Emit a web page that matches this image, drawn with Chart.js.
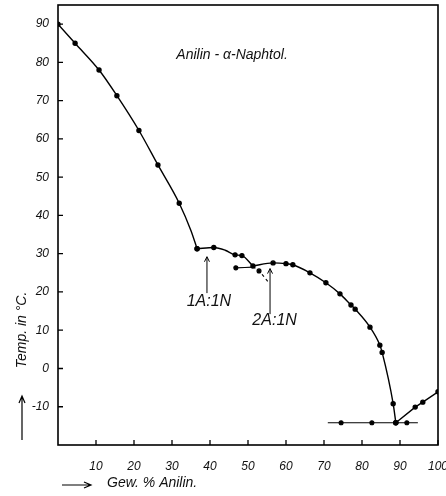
<!DOCTYPE html>
<html>
<head>
<meta charset="utf-8">
<script src="https://cdn.jsdelivr.net/npm/chart.js@4"></script>
<style>
  body { margin: 0; background: #fff; }
  canvas { display: block; }
</style>
</head>
<body>
<canvas id="chart" width="446" height="496"></canvas>
<script>
// Data: Gew. % Anilin vs. Temp. in °C
// alpha-naphthol branch
const naphtholX = [0, 4.5, 10.8, 15.5, 21.3, 26.3, 31.9, 35, 36.6];
const naphtholY = [90, 85, 78, 71.3, 62.2, 53.2, 43.2, 36, 31.3];

// compound 1A:1N
const comp11X = [36.6, 41, 44, 46.6, 48.4, 51.3];
const comp11Y = [31.3, 31.6, 30.9, 29.7, 29.5, 26.8];

// compound 2A:1N
const comp21X = [51.3, 56.6, 60, 61.8, 66.3, 70.5, 74.2, 77.1, 78.2, 82.1, 84.7, 85.3, 88.2, 88.9];
const comp21Y = [26.8, 27.6, 27.4, 27.1, 25, 22.4, 19.5, 16.6, 15.5, 10.8, 6.1, 4.2, -9.2, -14.2];

// aniline branch
const anilinX = [88.9, 94, 96, 100];
const anilinY = [-14.2, -10.1, -8.8, -6.1];

// eutectic line
const eutX = [71, 74.5, 82.6, 88.9, 91.8, 94.7];
const eutY = [-14.2, -14.2, -14.2, -14.2, -14.2, -14.2];

// short horizontal at 2A:1N and dashed metastable part
const shortX = [46.8, 51.3];
const shortY = [26.3, 26.5];
const metaX = [51.3, 52.9, 54.2, 55.3];
const metaY = [26.6, 25.5, 24, 22.6];

const xTicks = [10, 20, 30, 40, 50, 60, 70, 80, 90, 100];
const yTicks = [-10, 0, 10, 20, 30, 40, 50, 60, 70, 80, 90];

function zip(xs, ys) {
  return xs.map(function(x, i) { return { x: x, y: ys[i] }; });
}

const FONT = "'Liberation Sans', sans-serif";

const curve = {
  showLine: true,
  borderColor: "#000",
  backgroundColor: "#000",
  borderWidth: 1.4,
  pointRadius: 2,
  pointHoverRadius: 2,
  cubicInterpolationMode: "monotone"
};

// Extra drawing: frame, inner tick marks, title, axis captions, arrows
const decorations = {
  id: "decorations",
  afterDraw: function(chart) {
    const ctx = chart.ctx;
    const a = chart.chartArea;
    const xs = chart.scales.x;
    const ys = chart.scales.y;
    ctx.save();
    ctx.strokeStyle = "#000";
    ctx.fillStyle = "#111";

    // frame
    ctx.lineWidth = 1.6;
    ctx.strokeRect(a.left, a.top, a.right - a.left, a.bottom - a.top);

    // inner ticks
    ctx.lineWidth = 1.3;
    ctx.beginPath();
    xTicks.forEach(function(v) {
      const px = xs.getPixelForValue(v);
      ctx.moveTo(px, a.bottom);
      ctx.lineTo(px, a.bottom - 5);
    });
    yTicks.forEach(function(v) {
      const py = ys.getPixelForValue(v);
      ctx.moveTo(a.left, py);
      ctx.lineTo(a.left + 5, py);
    });
    ctx.stroke();

    // title
    ctx.font = "italic 14px " + FONT;
    ctx.textAlign = "center";
    ctx.textBaseline = "middle";
    ctx.fillText("Anilin - \u03b1-Naphtol.", xs.getPixelForValue(45.8), ys.getPixelForValue(81.8));

    // compound labels and arrows
    ctx.font = "italic 16px " + FONT;
    ctx.fillText("1A:1N", xs.getPixelForValue(39.7), ys.getPixelForValue(17.6));
    ctx.fillText("2A:1N", xs.getPixelForValue(57), ys.getPixelForValue(12.6));

    function arrowUp(x, y0, y1) {
      const px = xs.getPixelForValue(x);
      const p0 = ys.getPixelForValue(y0);
      const p1 = ys.getPixelForValue(y1);
      ctx.lineWidth = 1;
      ctx.beginPath();
      ctx.moveTo(px, p0);
      ctx.lineTo(px, p1);
      ctx.moveTo(px - 2.5, p1 + 5);
      ctx.lineTo(px, p1);
      ctx.lineTo(px + 2.5, p1 + 5);
      ctx.stroke();
    }
    arrowUp(39.2, 19.7, 29.2);
    arrowUp(55.8, 14.2, 26.1);

    // y axis caption
    ctx.font = "italic 14px " + FONT;
    ctx.save();
    ctx.translate(22, 330);
    ctx.rotate(-Math.PI / 2);
    ctx.fillText("Temp. in \u00b0C.", 0, 0);
    ctx.restore();
    ctx.lineWidth = 1.2;
    ctx.beginPath();
    ctx.moveTo(22, 440);
    ctx.lineTo(22, 396);
    ctx.moveTo(19, 403);
    ctx.lineTo(22, 396);
    ctx.lineTo(25, 403);
    ctx.stroke();

    // x axis caption
    ctx.textAlign = "left";
    ctx.fillText("Gew. % Anilin.", 107, 483);
    ctx.beginPath();
    ctx.moveTo(62, 485);
    ctx.lineTo(91, 485);
    ctx.moveTo(84, 482);
    ctx.lineTo(91, 485);
    ctx.lineTo(84, 488);
    ctx.stroke();

    ctx.restore();
  }
};

function noPad(s) {
  s.paddingLeft = 0;
  s.paddingRight = 0;
  s.paddingTop = 0;
  s.paddingBottom = 0;
}

new Chart(document.getElementById("chart"), {
  type: "scatter",
  data: {
    datasets: [
      Object.assign({}, curve, { data: zip(naphtholX, naphtholY), pointRadius: [2, 2, 2, 2, 2, 2, 2, 0, 2] }),
      Object.assign({}, curve, { data: zip(comp11X, comp11Y), pointRadius: [2, 2, 0, 2, 2, 0] }),
      Object.assign({}, curve, { data: zip(comp21X, comp21Y) }),
      Object.assign({}, curve, { data: zip(anilinX, anilinY), cubicInterpolationMode: "default", tension: 0 }),
      Object.assign({}, curve, { data: zip(eutX, eutY), borderWidth: 1.1, pointRadius: [0, 2, 2, 2, 2, 0] }),
      Object.assign({}, curve, { data: zip(shortX, shortY), borderWidth: 1.1, pointRadius: [2, 0] }),
      Object.assign({}, curve, { data: zip(metaX, metaY), borderWidth: 1.1, borderDash: [3, 3], pointRadius: [0, 2, 0, 0] })
    ]
  },
  options: {
    responsive: false,
    animation: false,
    events: [],
    layout: { padding: { top: 5, right: 8, left: 0, bottom: 0 } },
    plugins: { legend: { display: false }, tooltip: { enabled: false } },
    scales: {
      x: {
        type: "linear",
        min: 0,
        max: 100,
        grid: { display: false, drawTicks: false },
        border: { display: false },
        afterFit: function(s) { s.height = 51; noPad(s); },
        afterBuildTicks: function(s) { s.ticks = xTicks.map(function(v) { return { value: v }; }); },
        ticks: {
          padding: 14,
          maxRotation: 0,
          autoSkip: false,
          color: "#111",
          font: { family: FONT, size: 12, style: "italic" }
        }
      },
      y: {
        type: "linear",
        min: -20,
        max: 95,
        grid: { display: false, drawTicks: false },
        border: { display: false },
        afterFit: function(s) { s.width = 58; noPad(s); },
        afterBuildTicks: function(s) { s.ticks = yTicks.map(function(v) { return { value: v }; }); },
        ticks: {
          padding: 9,
          autoSkip: false,
          color: "#111",
          font: { family: FONT, size: 12, style: "italic" }
        }
      }
    }
  },
  plugins: [decorations]
});
</script>
</body>
</html>
